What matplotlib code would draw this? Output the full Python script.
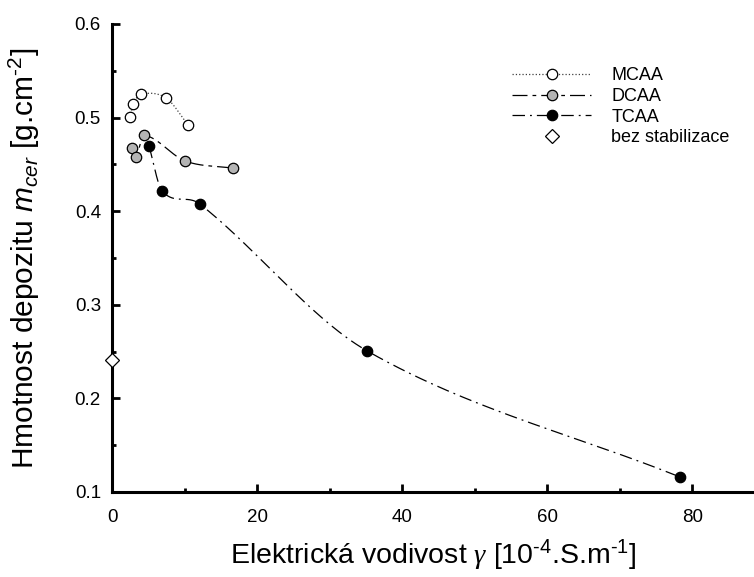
import numpy as np
import matplotlib.pyplot as plt
from matplotlib.lines import Line2D
from matplotlib.ticker import MultipleLocator

plt.rcParams['font.family'] = ['Liberation Sans', 'DejaVu Sans']
plt.rcParams['mathtext.fontset'] = 'custom'
plt.rcParams['mathtext.rm'] = 'Liberation Sans'
plt.rcParams['mathtext.it'] = 'Liberation Sans:italic'
plt.rcParams['mathtext.sf'] = 'Liberation Serif:italic'

# values
mcaa_x = [2.5, 2.9, 4.0, 7.45, 10.5]
mcaa_y = [0.5006, 0.5145, 0.525, 0.521, 0.492]

dcaa_x = [2.8, 3.3, 4.4, 10.1, 16.7]
dcaa_y = [0.4675, 0.458, 0.481, 0.4536, 0.446]

tcaa_x = [5.1, 6.9, 12.1, 35.2, 78.3]
tcaa_y = [0.4697, 0.4216, 0.4077, 0.2506, 0.116]

bez_x = [0.0]
bez_y = [0.241]


def smooth(x, y, n=60):
    # cubic Hermite curve through the points (secant tangents), only for the line
    x = np.asarray(x, float)
    y = np.asarray(y, float)
    h = np.diff(x)
    m = np.empty_like(y)
    m[0] = (y[1] - y[0]) / h[0]
    m[-1] = (y[-1] - y[-2]) / h[-1]
    m[1:-1] = (y[2:] - y[:-2]) / (x[2:] - x[:-2])
    t = np.linspace(0, 1, n)
    h00 = 2 * t ** 3 - 3 * t ** 2 + 1
    h10 = t ** 3 - 2 * t ** 2 + t
    h01 = -2 * t ** 3 + 3 * t ** 2
    h11 = t ** 3 - t ** 2
    xs, ys = [], []
    for k in range(len(x) - 1):
        xs.append(x[k] + t * h[k])
        ys.append(h00 * y[k] + h10 * h[k] * m[k] + h01 * y[k + 1] + h11 * h[k] * m[k + 1])
    return np.concatenate(xs), np.concatenate(ys)


fig = plt.figure(figsize=(7.54, 5.77), dpi=100)
ax = fig.add_axes([112 / 754, 85 / 577, 642 / 754, 468 / 577])

lw = 0.9
styles = {
    'MCAA': dict(color='0.25', linestyle=':', linewidth=lw),
    'DCAA': dict(color='black', dashes=(12, 4, 3, 4), linewidth=lw),
    'TCAA': dict(color='black', dashes=(10, 4, 1.5, 4), linewidth=lw),
}
fills = {'MCAA': 'white', 'DCAA': '#b4b4b4', 'TCAA': 'black'}
series = {'MCAA': (mcaa_x, mcaa_y), 'DCAA': (dcaa_x, dcaa_y), 'TCAA': (tcaa_x, tcaa_y)}

handles = []
for name, (xs, ys) in series.items():
    sx, sy = smooth(xs, ys)
    ax.plot(sx, sy, zorder=2, **styles[name])
    ax.plot(xs, ys, linestyle='none', marker='o', markersize=7.5,
            markerfacecolor=fills[name], markeredgecolor='black',
            markeredgewidth=0.9, zorder=3)
    handles.append(Line2D([], [], marker='o', markersize=7.5,
                          markerfacecolor=fills[name], markeredgecolor='black',
                          markeredgewidth=0.9, label=name, **styles[name]))

ax.plot(bez_x, bez_y, linestyle='none', marker='D', markersize=7,
        markerfacecolor='white', markeredgecolor='black', markeredgewidth=0.9,
        clip_on=False, zorder=4)
handles.append(Line2D([], [], linestyle='none', marker='D', markersize=7,
                      markerfacecolor='white', markeredgecolor='black',
                      markeredgewidth=0.9, label='bez stabilizace'))

ax.set_xlim(0, 88.5)
ax.set_ylim(0.1, 0.6)
ax.xaxis.set_major_locator(MultipleLocator(20))
ax.xaxis.set_minor_locator(MultipleLocator(10))
ax.yaxis.set_major_locator(MultipleLocator(0.1))
ax.yaxis.set_minor_locator(MultipleLocator(0.05))

for s in ['top', 'right']:
    ax.spines[s].set_visible(False)
for s in ['left', 'bottom']:
    ax.spines[s].set_linewidth(2.2)

ax.tick_params(which='both', direction='in', width=2, labelsize=13.5)
ax.tick_params(which='major', length=6)
ax.tick_params(which='minor', length=3)
ax.tick_params(axis='x', pad=12)
ax.tick_params(axis='y', pad=8)
ax.set_yticklabels(['%.1f' % v for v in ax.get_yticks()])

ax.set_xlabel(r'Elektrická vodivost $\mathsf{\gamma}$ [10$^{\text{-}4}$.S.m$^{\text{-}1}$]', fontsize=20.5)
ax.set_ylabel(r'Hmotnost depozitu $m_{cer}$ [g.cm$^{\text{-}2}$]', fontsize=21.5)
ax.xaxis.set_label_coords(0.5, -0.098)
ax.yaxis.set_label_coords(-0.109, 0.5)

ax.legend(handles=handles, loc='upper left', bbox_to_anchor=(0.667, 0.899),
          bbox_transform=fig.transFigure, frameon=False, fontsize=13,
          handlelength=4.4, handletextpad=1.1, labelspacing=0.2, borderpad=0)

fig.savefig('out.png', dpi=100)
